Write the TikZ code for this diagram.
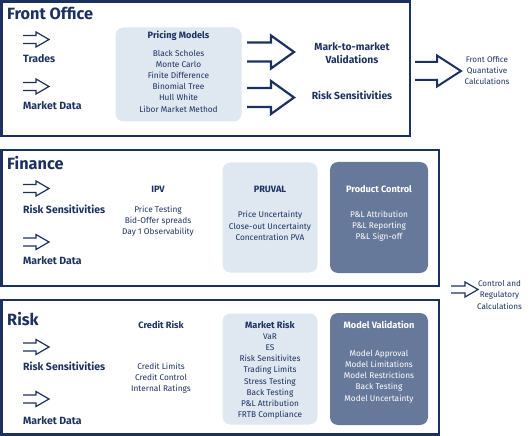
\documentclass[tikz,border=0pt]{standalone}
\usepackage{fontspec}
\setmainfont{Fira Sans}
\definecolor{navy}{HTML}{1D3160}
\definecolor{lightbox}{HTML}{DFE8F1}
\definecolor{darkbox}{HTML}{67799B}
\newcommand{\oarrow}[7]{% x0, xh, xtip, ymid, shaft half, head half, width
  \draw[navy,line width=#7,line join=miter] (#1,#4-#5) -- (#2,#4-#5) -- (#2,#4-#6) -- (#3,#4) -- (#2,#4+#6) -- (#2,#4+#5) -- (#1,#4+#5);}
\tikzset{
  section/.style={draw=navy,line width=2.4pt},
  sectitle/.style={anchor=west,inner sep=0pt,text=navy,font=\fontsize{16.3}{18}\bfseries\selectfont},
  label/.style={anchor=west,inner sep=0pt,text=navy,font=\fontsize{10.5}{13}\bfseries\selectfont},
  biglabel/.style={inner sep=0pt,text=navy,align=center,font=\fontsize{10.3}{13}\bfseries\selectfont},
  boxtitle/.style={inner sep=0pt,text=navy,font=\fontsize{9.2}{11}\bfseries\selectfont},
  items/.style={inner sep=0pt,text=navy,align=center,font=\fontsize{8.3}{11.2}\selectfont},
  side/.style={inner sep=0pt,text=navy,align=center,font=\fontsize{8.1}{11.3}\selectfont},
  lightpanel/.style={fill=lightbox,draw=white,line width=1pt,rounded corners=8pt},
  darkpanel/.style={fill=darkbox,rounded corners=8pt},
}
\begin{document}
\begin{tikzpicture}[x=1pt,y=-1pt]
\useasboundingbox (0,0) rectangle (531,436);
% ---------------- Front Office
\draw[section] (1.5,1.5) rectangle (410,136);
\node[sectitle] (fo) at (7,13) {Front Office};
\oarrow{23}{36}{49}{39.5}{4}{7.5}{1.2pt}
\node[label] (trades) at (23,59) {Trades};
\oarrow{23}{36}{49}{86.5}{4}{7.5}{1.2pt}
\node[label] (fomd) at (23,106) {Market Data};
\fill[lightpanel] (115,27) rectangle (242,122);
\node[boxtitle] (pm) at (178.5,36) {Pricing Models};
\node[items] (pmi) at (178.5,81) {Black Scholes\\Monte Carlo\\Finite Difference\\Binomial Tree\\Hull White\\Libor Market Method};
\oarrow{247}{271}{294}{52}{9.5}{16.5}{2.2pt}
\oarrow{247}{271}{294}{97.5}{9.5}{16.5}{2.2pt}
\node[biglabel] (mtm) at (352,53.5) {Mark-to-market\\Validations};
\node[biglabel] (forisk) at (352,95) {Risk Sensitivities};
\oarrow{415}{437}{461}{71}{9}{15.5}{2pt}
\node[side] (foq) at (487,70.5) {Front Office\\Quantative\\Calculations};
% ---------------- Finance
\draw[section] (1.5,150) rectangle (439,286);
\node[sectitle] (fin) at (7,163) {Finance};
\oarrow{23}{36}{49}{188.5}{4}{7.5}{1.2pt}
\node[label] (finrs) at (23,209) {Risk Sensitivities};
\oarrow{23}{36}{49}{242}{4}{7.5}{1.2pt}
\node[label] (finmd) at (23,261) {Market Data};
\node[boxtitle] (ipv) at (158,189) {IPV};
\node[items] (ipvi) at (158,221) {Price Testing\\Bid-Offer spreads\\Day 1 Observability};
\fill[lightpanel] (222,162) rectangle (318,273);
\node[boxtitle] (pruval) at (270,189) {PRUVAL};
\node[items] (pruvali) at (270,226) {Price Uncertainty\\Close-out Uncertainty\\Concentration PVA};
\fill[darkpanel] (330,162) rectangle (428,273);
\node[boxtitle,text=white] (pc) at (379,189) {Product Control};
\node[items,text=white] (pci) at (379,226) {P\&L Attribution\\P\&L Reporting\\P\&L Sign-off};
\oarrow{451}{465}{478}{289.5}{3.5}{7.5}{1.2pt}
\node[side] (crc) at (499.5,295) {Control and\\Regulatory\\Calculations};
% ---------------- Risk
\draw[section] (1.5,300) rectangle (439,434.5);
\node[sectitle] (risk) at (7,319) {Risk};
\oarrow{23}{36}{49}{347}{4}{7.5}{1.2pt}
\node[label] (riskrs) at (23,366) {Risk Sensitivities};
\oarrow{23}{36}{49}{399}{4}{7.5}{1.2pt}
\node[label] (riskmd) at (23,421) {Market Data};
\node[boxtitle] (cr) at (161,325) {Credit Risk};
\node[items] (cri) at (161,378) {Credit Limits\\Credit Control\\Internal Ratings};
\fill[lightpanel] (222,313) rectangle (318,425);
\node[boxtitle] (mr) at (270,325) {Market Risk};
\node[items] (mri) at (270,376.5) {VaR\\ES\\Risk Sensitivites\\Trading Limits\\Stress Testing\\Back Testing\\P\&L Attribution\\FRTB Compliance};
\fill[darkpanel] (330,313) rectangle (428,425);
\node[boxtitle,text=white] (mv) at (379,325) {Model Validation};
\node[items,text=white] (mvi) at (379,376.5) {Model Approval\\Model Limitations\\Model Restrictions\\Back Testing\\Model Uncertainty};
\end{tikzpicture}
\end{document}
